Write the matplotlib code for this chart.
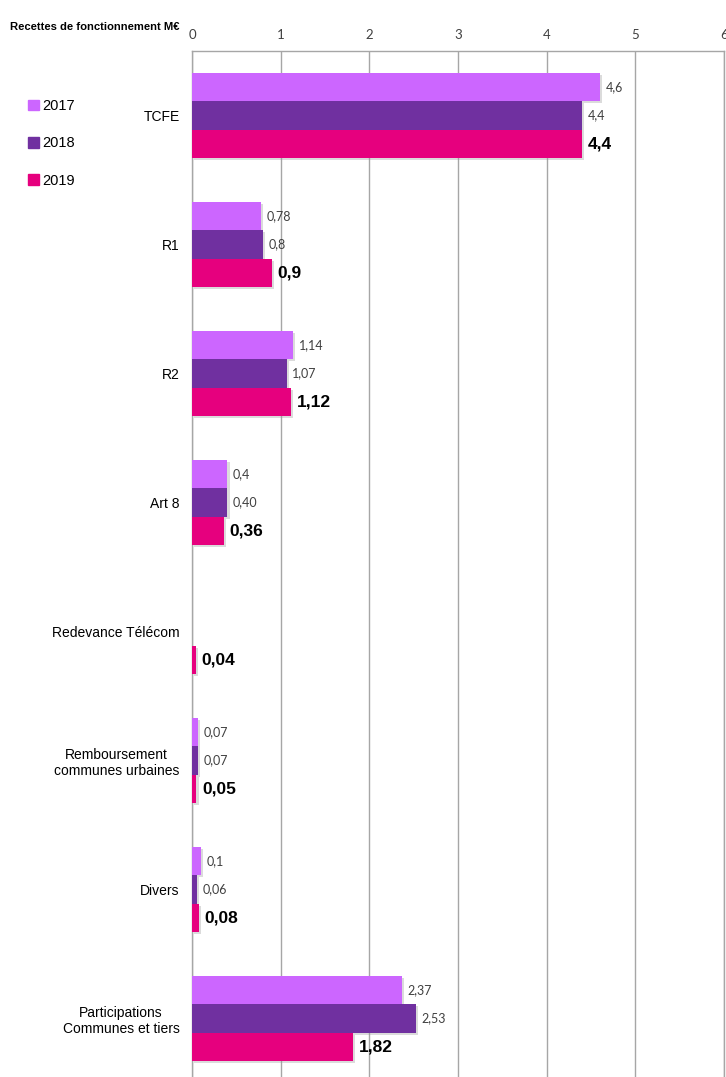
import matplotlib
matplotlib.use("Agg")
import matplotlib.pyplot as plt
import matplotlib.patheffects as pe
from matplotlib.patches import Patch
import numpy as np

categories = ["TCFE", "R1", "R2", "Art 8", "Redevance Télécom",
              "Remboursement\ncommunes urbaines", "Divers",
              "Participations\nCommunes et tiers"]
annees = ["2017", "2018", "2019"]
v2017 = [4.6, 0.78, 1.14, 0.4, 0, 0.07, 0.1, 2.37]
v2018 = [4.4, 0.8, 1.07, 0.40, 0, 0.07, 0.06, 2.53]
v2019 = [4.4, 0.9, 1.12, 0.36, 0.04, 0.05, 0.08, 1.82]
lab2017 = ["4,6", "0,78", "1,14", "0,4", "", "0,07", "0,1", "2,37"]
lab2018 = ["4,4", "0,8", "1,07", "0,40", "", "0,07", "0,06", "2,53"]
lab2019 = ["4,4", "0,9", "1,12", "0,36", "0,04", "0,05", "0,08", "1,82"]
couleurs = ["#CC66FF", "#7030A0", "#E6007E"]

narrow = ["Liberation Sans", "DejaVu Sans"]
thin = ["Lato", "DejaVu Sans"]

W, H = 726, 1077
fig = plt.figure(figsize=(W / 100, H / 100), dpi=100)
ax = fig.add_axes([192 / W, -6 / H, 532 / W, 1032 / H])

y = np.arange(len(categories))
h = 0.221
ombre = [pe.withSimplePatchShadow(offset=(1.5, -1.5), shadow_rgbFace="#999999", alpha=0.35)]

series = [(v2017, lab2017), (v2018, lab2018), (v2019, lab2019)]
for i, (vals, labs) in enumerate(series):
    bars = ax.barh(y + (i - 1) * h, vals, height=h, color=couleurs[i],
                   label=annees[i], linewidth=0, zorder=3)
    for b, v in zip(bars, vals):
        if v > 0:
            b.set_path_effects(ombre)
    if i < 2:
        ax.bar_label(bars, labels=labs, padding=4, fontsize=9,
                     family=thin, color="#404040")
    else:
        ax.bar_label(bars, labels=labs, padding=4, fontsize=12.5,
                     family=narrow, fontweight="bold", color="black")

ax.set_xlim(0, 6)
ax.set_ylim(len(categories) - 0.5, -0.5)
ax.set_xticks(range(7))
ax.xaxis.tick_top()
ax.tick_params(axis="x", length=0, pad=7, labelsize=9.5, labelcolor="#404040")
for t in ax.get_xticklabels():
    t.set_family(thin)
ax.set_yticks(y)
ax.set_yticklabels(categories, family=narrow, fontsize=10, multialignment="center")
ax.tick_params(axis="y", length=0, pad=9)
ax.grid(axis="x", color="#A6A6A6", linewidth=1, zorder=0)
for s in ["top", "left", "right"]:
    ax.spines[s].set_color("#A6A6A6")
    ax.spines[s].set_linewidth(1)
ax.spines["bottom"].set_visible(False)

fig.text(10 / W, 1 - 27 / H, "Recettes de fonctionnement M€", family=narrow,
         fontweight="bold", fontsize=8.1, va="center", ha="left")

poignees = [Patch(color=c) for c in couleurs]
fig.legend(poignees, annees, loc="upper left", bbox_to_anchor=(15 / W, 1 - 86 / H),
           frameon=False, handlelength=0.75, handleheight=0.75, handletextpad=0.2,
           labelspacing=1.6, prop={"family": narrow, "size": 10.5})

fig.savefig("out.png", dpi=100)
